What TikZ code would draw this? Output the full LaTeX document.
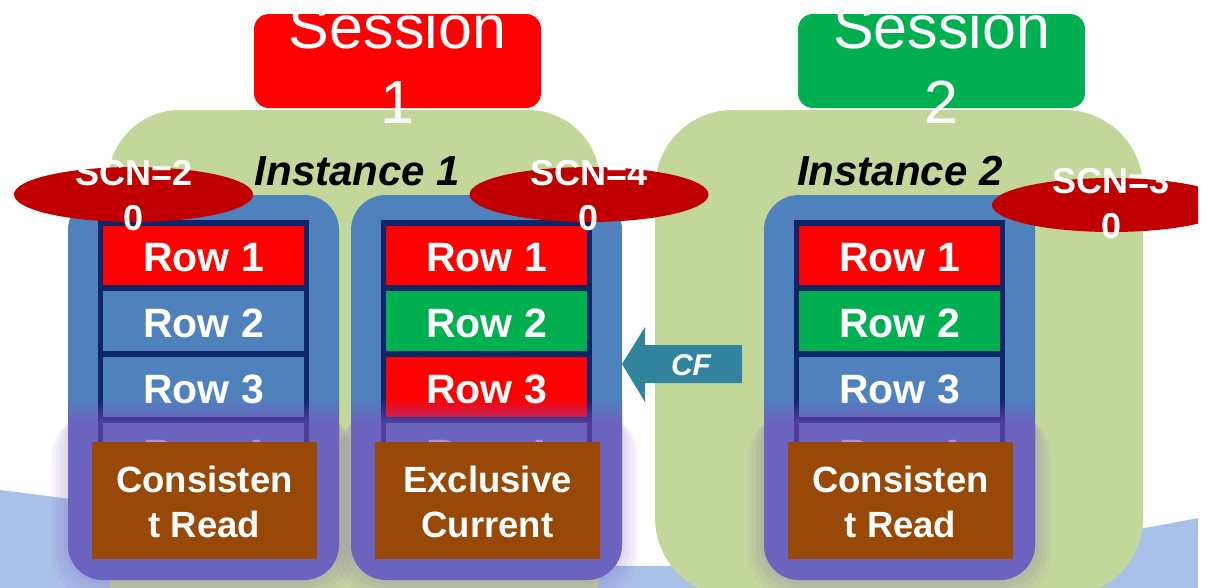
\documentclass[tikz,border=0pt]{standalone}
\usepackage{fontspec}
\setmainfont{Liberation Sans}
\definecolor{pgreen}{HTML}{C4D79B}
\definecolor{bblue}{HTML}{4F81BD}
\definecolor{rred}{HTML}{FF0000}
\definecolor{ggreen}{HTML}{00B050}
\definecolor{navyc}{HTML}{0F2568}
\definecolor{scnred}{HTML}{C00000}
\definecolor{cbrown}{HTML}{984807}
\definecolor{cfteal}{HTML}{31849B}
\definecolor{wavec}{HTML}{A9C1E7}
\definecolor{glowp}{HTML}{7E4FBF}
\tikzset{
  rowtxt/.style={text=white, font=\bfseries\fontsize{41}{49}\selectfont, inner sep=0pt, anchor=base},
  brtxt/.style={text=white, font=\bfseries\fontsize{36.5}{44}\selectfont, inner sep=0pt, anchor=base},
  scntxt/.style={text=white, font=\bfseries\fontsize{36}{44}\selectfont, inner sep=0pt, anchor=base},
  sesstxt/.style={text=white, font=\fontsize{61}{73}\selectfont, inner sep=0pt, anchor=base},
  insttxt/.style={text=black, font=\bfseries\itshape\fontsize{42}{50}\selectfont, inner sep=0pt, anchor=base},
  cftxt/.style={text=white, font=\bfseries\itshape\fontsize{30}{36}\selectfont, inner sep=0pt, anchor=base},
  boxshape/.style={rounded corners=35pt},
}
% #1 box left x, #2 name prefix, #3-#5 row colours, #6 #7 brown text lines, #8 unused
\newcommand\instcol[8]{%
  \foreach \e in {4,8,12,16}{
    \fill[glowp, opacity=0.06, rounded corners=40pt] (#1-\e,400+\e) rectangle (#1+271+\e,580+\e);
  }
  \fill[bblue, boxshape] (#1,195) rectangle (#1+271,580);
  \fill[navyc] (#1+30,220) rectangle (#1+241,500);
  \fill[#3] (#1+35,225.5) rectangle (#1+236,285);
  \fill[#4] (#1+35,291.3) rectangle (#1+236,350.8);
  \fill[#5] (#1+35,357.1) rectangle (#1+236,416.6);
  \fill[bblue] (#1+35,422.9) rectangle (#1+236,495);
  \node[rowtxt] (#2r1) at (#1+135.5,271.5) {Row 1};
  \node[rowtxt] (#2r2) at (#1+135.5,337.3) {Row 2};
  \node[rowtxt] (#2r3) at (#1+135.5,403.1) {Row 3};
  \begin{scope}
    \clip (#1,420) rectangle (#1+271,442);
    \node[rowtxt] (#2r4) at (#1+135.5,468.9) {Row 4};
  \end{scope}
  \begin{scope}
    \clip[boxshape] (#1,195) rectangle (#1+271,580);
    \foreach \k [evaluate=\k as \op using 0.05*\k] in {1,...,12}{
      \fill[glowp, opacity=\op] (#1-5,400+2*\k-2) rectangle (#1+276,400+2*\k);
    }
    \fill[glowp, opacity=0.6] (#1-5,424) rectangle (#1+276,590);
  \end{scope}
  \fill[cbrown] (#1+24,442) rectangle (#1+249,559);
  \node[brtxt] (#2ba) at (#1+136.5,492) {#6};
  \node[brtxt] (#2bb) at (#1+136.5,537) {#7};
}
\begin{document}
\begin{tikzpicture}[x=1pt,y=-1pt]
\useasboundingbox (0,0) rectangle (1207,587);
\fill[white] (0,0) rectangle (1207,587);
\begin{scope}
\clip (0,14) rectangle (1198,587);
% background wave
\fill[wavec] (0,490) .. controls (250,520) and (430,566) .. (640,566)
   .. controls (850,566) and (1010,555) .. (1198,518) -- (1198,600) -- (0,600) -- cycle;
% instance panels
\fill[pgreen, rounded corners=72pt] (108,110) rectangle (600,640);
\fill[pgreen, rounded corners=78pt] (655,110) rectangle (1143,596);
% sessions
\fill[rred, rounded corners=15pt] (254,14) rectangle (541,108);
\fill[ggreen, rounded corners=15pt] (798,14) rectangle (1085,108);
\node[sesstxt] (s1a) at (397.5,48) {Session};
\node[sesstxt] (s1b) at (397.5,123) {1};
\node[sesstxt] (s2a) at (941.5,48) {Session};
\node[sesstxt] (s2b) at (941.5,123) {2};
% instance titles
\node[insttxt] (i1) at (357.5,185) {Instance 1};
\node[insttxt] (i2) at (900,185) {Instance 2};
% columns
\instcol{68}{a}{rred}{bblue}{bblue}{Consisten}{t Read}{}
\instcol{351}{b}{rred}{ggreen}{rred}{Exclusive}{Current}{}
\instcol{764}{c}{rred}{ggreen}{bblue}{Consisten}{t Read}{}
% SCN ellipses
\coordinate (e1) at (133.5,194.5);
\coordinate (e2) at (589,194.5);
\coordinate (e3) at (1111.5,205);
\fill[scnred] (e1) ellipse [x radius=119.5pt, y radius=27.5pt];
\fill[scnred] (e2) ellipse [x radius=119.5pt, y radius=27.5pt];
\fill[scnred] (e3) ellipse [x radius=119.5pt, y radius=27pt];
\node[scntxt] (n1a) at (134,185) {SCN=2};
\node[scntxt] (n1b) at (134,230) {0};
\node[scntxt] (n2a) at (589,185) {SCN=4};
\node[scntxt] (n2b) at (589,230) {0};
\node[scntxt] (n3a) at (1111,193) {SCN=3};
\node[scntxt] (n3b) at (1111,238) {0};
% CF arrow
\coordinate (cftip) at (622,364);
\fill[cfteal] (cftip) -- (645,327) -- (645,345) -- (742,345) -- (742,383) -- (645,383) -- (645,402) -- cycle;
\node[cftxt] (cf) at (691,375) {CF};
\end{scope}
\end{tikzpicture}
\end{document}
